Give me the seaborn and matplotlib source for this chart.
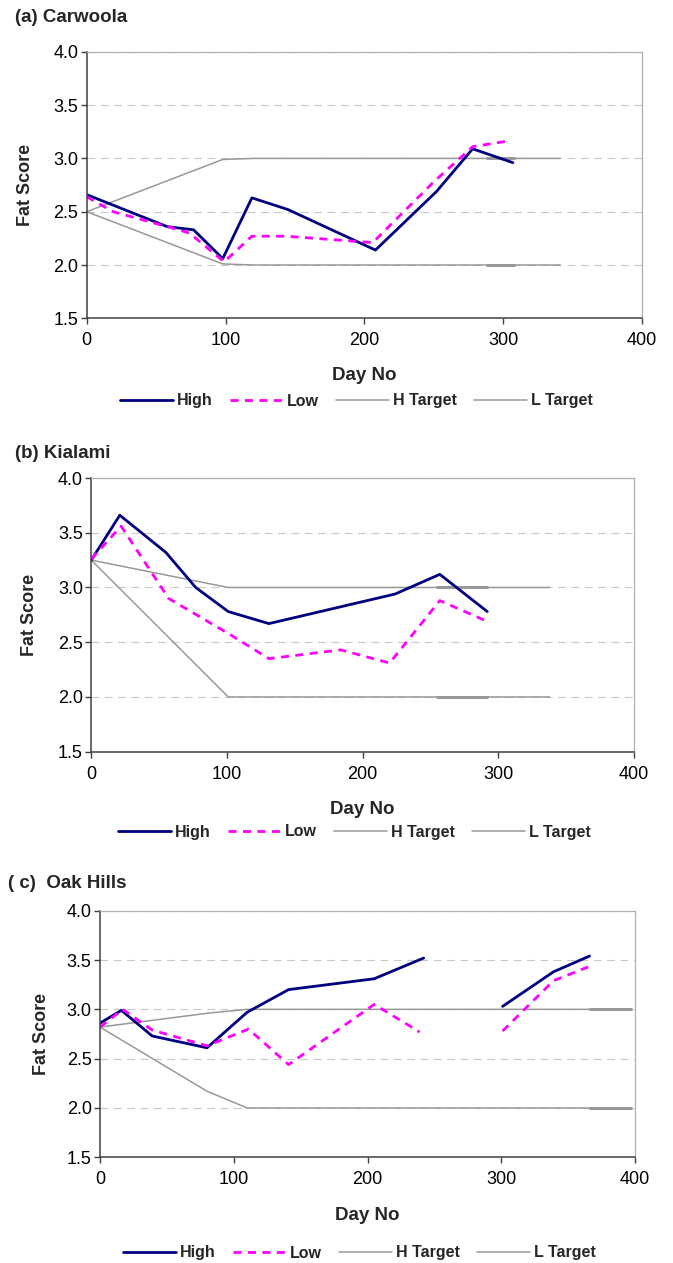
import numpy as np
import pandas as pd
import seaborn as sns
import matplotlib.pyplot as plt
from matplotlib.ticker import FormatStrFormatter

sns.set_theme(style="white")
plt.rcParams['font.family'] = ['Liberation Sans', 'DejaVu Sans']

# (a) Carwoola
a_high_day = [0, 58, 77, 98, 119, 145, 208, 252, 278, 307]
a_high = [2.66, 2.36, 2.33, 2.06, 2.63, 2.52, 2.14, 2.69, 3.09, 2.96]
a_low_day = [0, 19, 58, 74, 99, 119, 144, 206, 250, 278, 302]
a_low = [2.64, 2.50, 2.36, 2.30, 2.03, 2.27, 2.27, 2.21, 2.78, 3.11, 3.16]
a_target_day = [0, 98, 120, 341]
a_h_target = [2.5, 2.99, 3.0, 3.0]
a_l_target = [2.5, 2.01, 2.0, 2.0]
a_overlap_day = [288, 308]

# (b) Kialami
b_high_day = [0, 21, 55, 77, 101, 131, 224, 257, 292]
b_high = [3.25, 3.66, 3.32, 3.00, 2.78, 2.67, 2.94, 3.12, 2.78]
b_low_day = [0, 22, 57, 101, 131, 184, 220, 257, 292]
b_low = [3.26, 3.56, 2.90, 2.58, 2.35, 2.43, 2.31, 2.88, 2.69]
b_target_day = [0, 101, 338]
b_h_target = [3.25, 3.0, 3.0]
b_l_target = [3.25, 2.0, 2.0]
b_overlap_day = [255, 292]

# (c) Oak Hills - no measurement around day 270
c_high_day = [0, 16, 39, 80, 110, 141, 205, 242, 270, 301, 339, 366]
c_high = [2.86, 2.99, 2.73, 2.61, 2.97, 3.20, 3.31, 3.52, np.nan, 3.03, 3.38, 3.54]
c_low_day = [0, 17, 39, 80, 111, 141, 205, 239, 270, 301, 339, 365]
c_low = [2.82, 3.00, 2.79, 2.63, 2.80, 2.44, 3.05, 2.77, np.nan, 2.78, 3.29, 3.43]
c_target_day = [0, 80, 110, 397]
c_h_target = [2.82, 2.96, 3.0, 3.0]
c_l_target = [2.82, 2.17, 2.0, 2.0]
c_overlap_day = [366, 397]

W, H = 673, 1263
fig = plt.figure(figsize=(W / 100, H / 100), dpi=100)


def draw(ax, days, vals, **kw):
    df = pd.DataFrame({"day": days, "score": vals})
    df["seg"] = df["score"].isna().cumsum()
    df = df.dropna()
    sns.lineplot(data=df, x="day", y="score", units="seg", estimator=None,
                 sort=False, ax=ax, **kw)


panels = [
    ("(a) Carwoola", a_high_day, a_high, a_low_day, a_low, a_target_day,
     a_h_target, a_l_target, a_overlap_day,
     dict(left=86.7, right=642, top=51.8, bottom=318.3, title=(15, 17),
          ylab=25, xlab=375, leg=401)),
    ("(b) Kialami", b_high_day, b_high, b_low_day, b_low, b_target_day,
     b_h_target, b_l_target, b_overlap_day,
     dict(left=91.3, right=633.7, top=478, bottom=751.7, title=(15, 454),
          ylab=30, xlab=810, leg=832)),
    ("( c)  Oak Hills", c_high_day, c_high, c_low_day, c_low, c_target_day,
     c_h_target, c_l_target, c_overlap_day,
     dict(left=100, right=635, top=910.7, bottom=1157.3, title=(8, 883),
          ylab=41, xlab=1215, leg=1253)),
]

for (title, hd, hv, ld, lv, td, ht, lt, od, pos) in panels:
    ax = fig.add_axes([pos["left"] / W, 1 - pos["bottom"] / H,
                       (pos["right"] - pos["left"]) / W,
                       (pos["bottom"] - pos["top"]) / H])

    draw(ax, td, ht, color="#999999", linewidth=1.1, label="H Target")
    draw(ax, td, lt, color="#999999", linewidth=1.1, label="L Target")
    # short stretch where the target series overlap
    draw(ax, od, [ht[-1]] * len(od), color="#999999", linewidth=2.2)
    draw(ax, od, [lt[-1]] * len(od), color="#999999", linewidth=2.2)
    draw(ax, hd, hv, color="#000080", linewidth=2.0, label="High")
    draw(ax, ld, lv, color="#ff00ff", linewidth=2.0,
         linestyle=(0, (2.9, 2.3)), label="Low")

    ax.set_xlim(0, 400)
    ax.set_ylim(1.5, 4.0)
    ax.set_xticks([0, 100, 200, 300, 400])
    ax.set_yticks([1.5, 2.0, 2.5, 3.0, 3.5, 4.0])
    ax.yaxis.set_major_formatter(FormatStrFormatter("%.1f"))
    ax.set_xlabel("")
    ax.set_ylabel("")

    ax.set_axisbelow(True)
    ax.yaxis.grid(True, color="#c8c8c8", linestyle=(0, (7, 5)), linewidth=0.8)
    ax.xaxis.grid(False)
    for side in ["left", "bottom"]:
        ax.spines[side].set_color("#404040")
        ax.spines[side].set_linewidth(1.1)
    for side in ["top", "right"]:
        ax.spines[side].set_color("#b0b0b0")
        ax.spines[side].set_linewidth(0.9)
    ax.tick_params(axis="both", which="major", bottom=True, left=True,
                   direction="out", length=4, width=1.0, color="#404040",
                   labelsize=13, labelcolor="black")
    ax.tick_params(axis="x", pad=6)
    ax.tick_params(axis="y", pad=2)

    fig.text(pos["title"][0] / W, 1 - pos["title"][1] / H, title,
             fontsize=13.5, fontweight="bold", ha="left", va="center")
    xc = (pos["left"] + pos["right"]) / 2 / W
    fig.text(xc, 1 - pos["xlab"] / H, "Day No", fontsize=13.5,
             fontweight="bold", ha="center", va="center")
    fig.text(pos["ylab"] / W, 1 - (pos["top"] + pos["bottom"]) / 2 / H,
             "Fat Score", fontsize=13, fontweight="bold", rotation=90,
             ha="center", va="center")

    handles, labels = ax.get_legend_handles_labels()
    uniq = {}
    for h, l in zip(handles, labels):
        if l not in uniq:
            uniq[l] = h
    order = ["High", "Low", "H Target", "L Target"]
    ax.legend([uniq[k] for k in order], order, loc="center",
              bbox_to_anchor=(xc - 8 / W, 1 - pos["leg"] / H),
              bbox_transform=fig.transFigure, ncol=4, frameon=False,
              handlelength=3.3, handletextpad=0.25, columnspacing=1.1,
              prop={"size": 11.5, "weight": "bold"}, borderpad=0)

fig.savefig("out.png", dpi=100)
